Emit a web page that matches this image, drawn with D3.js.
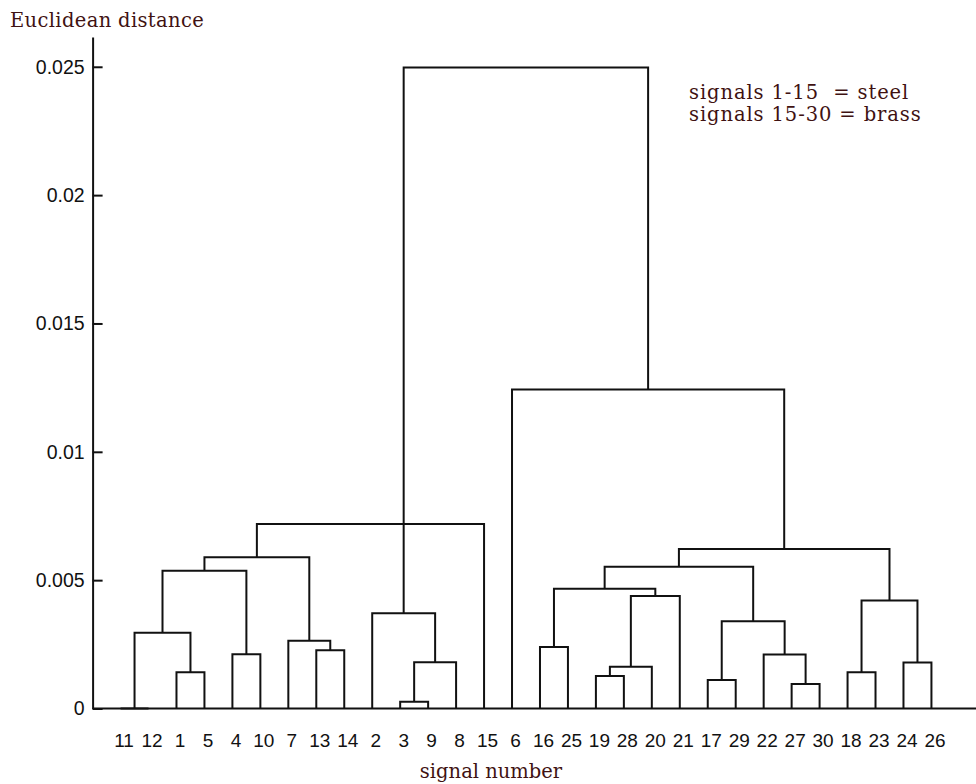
<!DOCTYPE html>
<html><head><meta charset="utf-8">
<script src="https://cdn.jsdelivr.net/npm/d3@7"></script>
<style>
body{margin:0;background:#fff}
svg{display:block}
.serif{font-family:"DejaVu Serif",serif;fill:#3f1212}
.tick text{font-family:"Liberation Sans",Arial,sans-serif;fill:#111}
</style>
</head><body>
<svg id="chart" width="976" height="784"></svg>
<script>
// leaf order along the x axis (signal numbers)
const leafOrder = [11,12,1,5,4,10,7,13,14,2,3,9,8,15,6,16,25,19,28,20,21,17,29,22,27,30,18,23,24,26];
// linkage rows: child A, child B, merge height (new cluster ids start at 31)
const mergeA = [11, 1,31, 4,33,13, 7,35, 3,39, 2,38,16,19,44,45,43,17,27,22,48,47,18,24,53,52, 6,41];
const mergeB = [12, 5,32,10,34,14,36,37, 9, 8,40,15,25,28,20,21,46,29,30,49,50,51,23,26,54,55,56,57];
const mergeH = [0.00000,0.00141,0.00295,0.00211,0.00537,0.00227,0.00264,0.00589,0.00026,0.00180,0.00371,0.00719,
                0.00240,0.00127,0.00163,0.00438,0.00467,0.00111,0.00095,0.00210,0.00340,0.00552,0.00141,0.00179,
                0.00421,0.00621,0.01243,0.02497];
const yTicks = [0,0.005,0.01,0.015,0.02,0.025];
const yTickLabels = ["0","0.005","0.01","0.015","0.02","0.025"];
const yTitle = "Euclidean distance";
const xTitle = "signal number";
const legendLines = ["signals 1-15  = steel","signals 15-30 = brass"];

const svg = d3.select("#chart");
const W = 976;
const x = d3.scaleLinear().domain([0, leafOrder.length + 1]).range([92.6, 959.4]);
const y = d3.scaleLinear().domain([0, 0.02616]).range([708.5, 37]);

// node positions
const nodes = {};
leafOrder.forEach((id, i) => { nodes[id] = {x: x(i + 1), h: 0}; });
const n = leafOrder.length;
const links = [];
mergeA.forEach((a, j) => {
  const b = mergeB[j], h = mergeH[j];
  const A = nodes[a], B = nodes[b];
  nodes[n + 1 + j] = {x: (A.x + B.x) / 2, h: h};
  links.push({A, B, h});
});

const g = svg.append("g");
g.selectAll("path.link").data(links).join("path")
  .attr("class", "link")
  .attr("fill", "none")
  .attr("stroke", "#111")
  .attr("stroke-width", 2)
  .attr("d", d => `M${d.A.x},${y(d.A.h)}V${y(d.h)}H${d.B.x}V${y(d.B.h)}`);

// baseline
svg.append("line")
  .attr("x1", x(0)).attr("x2", W)
  .attr("y1", y(0)).attr("y2", y(0))
  .attr("stroke", "#111").attr("stroke-width", 2);

// y axis
const yAxis = d3.axisLeft(y).tickValues(yTicks)
  .tickFormat((d, i) => yTickLabels[i])
  .tickSizeInner(-10).tickSizeOuter(0).tickPadding(8);
const ya = svg.append("g").attr("transform", `translate(${x(0)},0)`).call(yAxis);
ya.select(".domain").attr("stroke", "#111").attr("stroke-width", 2);
ya.selectAll(".tick line").attr("stroke", "#111").attr("stroke-width", 2);
ya.selectAll(".tick text").attr("font-size", 19.5);

// x axis labels
const xAxis = d3.axisBottom(x).tickValues(d3.range(1, n + 1))
  .tickFormat(d => leafOrder[d - 1]).tickSize(0).tickPadding(25);
const xa = svg.append("g").attr("transform", `translate(0,${y(0)})`).call(xAxis);
xa.select(".domain").remove();
xa.selectAll(".tick text").attr("font-size", 19).attr("dx", 3);

// titles
svg.append("text").attr("class", "serif").attr("x", 10).attr("y", 27)
  .attr("font-size", 19.5).attr("letter-spacing", 0.35).text(yTitle);
svg.append("text").attr("class", "serif").attr("x", 491).attr("y", 778)
  .attr("text-anchor", "middle").attr("font-size", 19.5).text(xTitle);
svg.append("g").selectAll("text").data(legendLines).join("text")
  .attr("class", "serif")
  .attr("x", 689).attr("y", (d, i) => 99 + i * 22)
  .attr("font-size", 19.5).attr("letter-spacing", 0.9)
  .style("white-space", "pre")
  .text(d => d);
</script>
</body></html>
